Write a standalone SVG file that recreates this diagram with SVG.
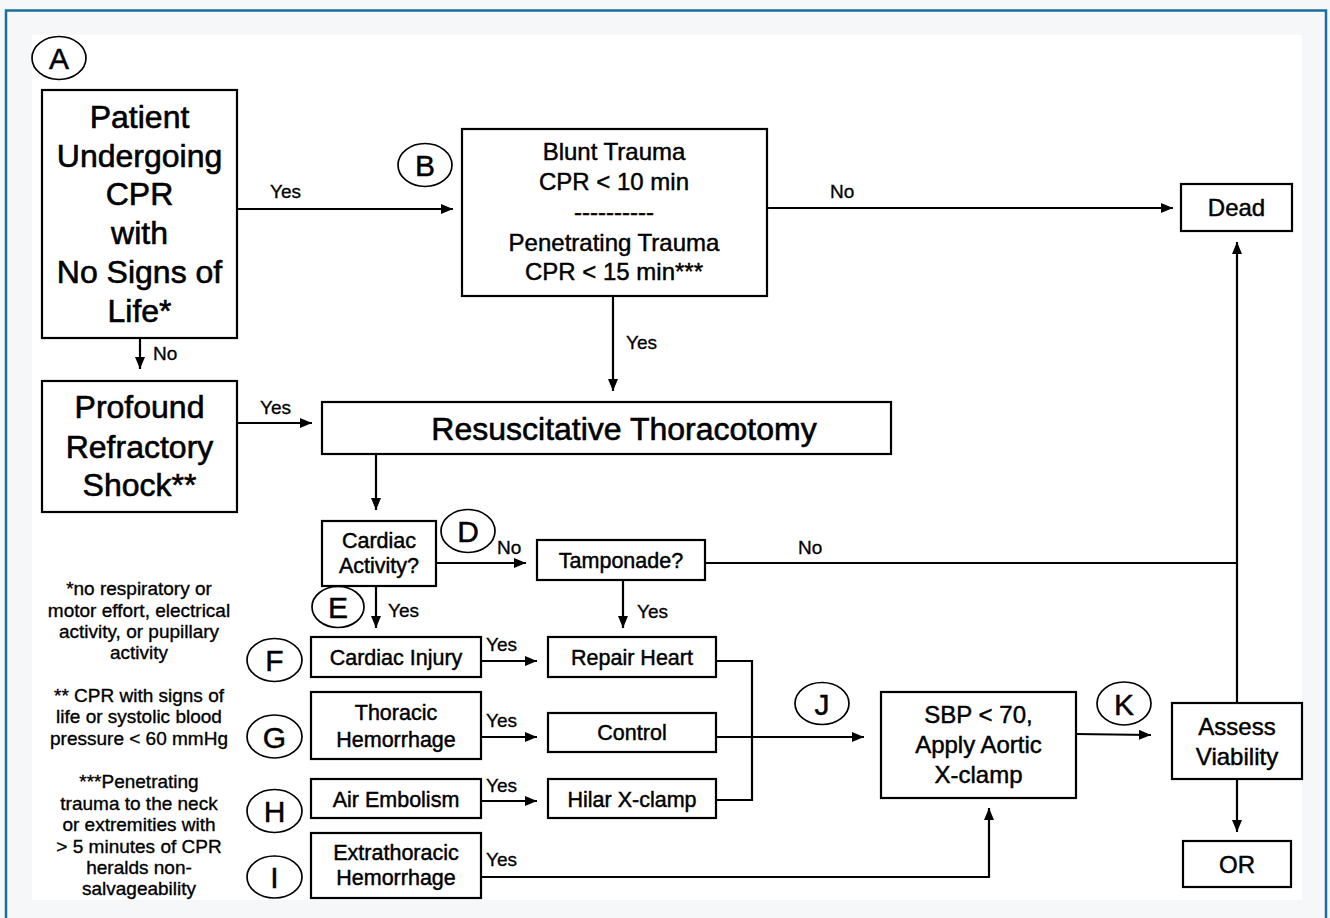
<svg xmlns="http://www.w3.org/2000/svg" width="1330" height="918" viewBox="0 0 1330 918">
<style>
text{font-family:"Liberation Sans",Arial,sans-serif;fill:#000;text-anchor:middle;stroke:#000;stroke-width:0.45}
.box{fill:#fff;stroke:#000;stroke-width:2.2}
.lbl{fill:none;stroke:#000;stroke-width:1.7}
.lt{font-size:30px}
.big{font-size:32px;stroke-width:0.6}
.mid{font-size:24px}
.sm{font-size:21.5px}
.yn{font-size:19px;text-anchor:start;stroke-width:0.3}
.fn{font-size:19px;stroke-width:0.35}
.ln{fill:none;stroke:#000;stroke-width:2.2}
</style>
<defs>
<marker id="ah" viewBox="0 0 12 10" refX="12" refY="5" markerWidth="12" markerHeight="10" markerUnits="userSpaceOnUse" orient="auto">
<path d="M0,0 L12,5 L0,10 Z" fill="#000"/>
</marker>
</defs>
<rect x="0" y="0" width="1330" height="918" fill="#f6f7f8"/>
<path d="M6,918 V10.5 H1326 V918" fill="none" stroke="#1b6f9c" stroke-width="2.5"/>
<rect x="32" y="35" width="1270" height="865" fill="#fff"/>

<g id="connectors">
<line class="ln" x1="237" y1="209" x2="453" y2="209" marker-end="url(#ah)"/>
<text class="yn" x="270" y="198">Yes</text>
<line class="ln" x1="767" y1="208" x2="1173" y2="208" marker-end="url(#ah)"/>
<text class="yn" x="830" y="198">No</text>
<line class="ln" x1="613" y1="296" x2="613" y2="391" marker-end="url(#ah)"/>
<text class="yn" x="626" y="349">Yes</text>
<line class="ln" x1="140" y1="338" x2="140" y2="369" marker-end="url(#ah)"/>
<text class="yn" x="153" y="360">No</text>
<line class="ln" x1="237" y1="423" x2="312" y2="423" marker-end="url(#ah)"/>
<text class="yn" x="260" y="414">Yes</text>
<line class="ln" x1="376" y1="454" x2="376" y2="510" marker-end="url(#ah)"/>
<line class="ln" x1="436" y1="563" x2="526" y2="563" marker-end="url(#ah)"/>
<text class="yn" x="497" y="554">No</text>
<polyline class="ln" points="705,563 1237,563"/>
<text class="yn" x="798" y="554">No</text>
<line class="ln" x1="1237" y1="703" x2="1237" y2="242" marker-end="url(#ah)"/>
<line class="ln" x1="623" y1="580" x2="623" y2="628" marker-end="url(#ah)"/>
<text class="yn" x="637" y="618">Yes</text>
<line class="ln" x1="376" y1="586" x2="376" y2="628" marker-end="url(#ah)"/>
<text class="yn" x="388" y="617">Yes</text>
<line class="ln" x1="481" y1="661" x2="537" y2="661" marker-end="url(#ah)"/>
<text class="yn" x="486" y="651">Yes</text>
<line class="ln" x1="481" y1="737" x2="537" y2="737" marker-end="url(#ah)"/>
<text class="yn" x="486" y="727">Yes</text>
<line class="ln" x1="481" y1="801" x2="537" y2="801" marker-end="url(#ah)"/>
<text class="yn" x="486" y="792">Yes</text>
<polyline class="ln" points="481,877 989,877 989,808" marker-end="url(#ah)"/>
<text class="yn" x="486" y="866">Yes</text>
<polyline class="ln" points="716,661 752,661 752,800 716,800"/>
<line class="ln" x1="716" y1="737" x2="864" y2="737" marker-end="url(#ah)"/>
<line class="ln" x1="1076" y1="734" x2="1151" y2="735" marker-end="url(#ah)"/>
<line class="ln" x1="1237" y1="779" x2="1237" y2="832" marker-end="url(#ah)"/>
</g>

<g id="circle-A"><ellipse class="lbl" cx="59" cy="58" rx="27" ry="21.5"/><text class="lt" x="59" y="69">A</text></g>
<g id="circle-B"><ellipse class="lbl" cx="425" cy="165" rx="27" ry="21.5"/><text class="lt" x="425" y="176">B</text></g>
<g id="circle-C"><ellipse class="lbl" cx="360" cy="424" rx="27" ry="21"/><text class="lt" x="360" y="435">C</text></g>
<g id="circle-D"><ellipse class="lbl" cx="468" cy="531" rx="27" ry="21.5"/><text class="lt" x="468" y="542">D</text></g>
<g id="circle-E"><ellipse class="lbl" cx="338" cy="607" rx="26" ry="20.5"/><text class="lt" x="338" y="618">E</text></g>
<g id="circle-F"><ellipse class="lbl" cx="274.5" cy="660" rx="27.5" ry="21.5"/><text class="lt" x="274.5" y="671">F</text></g>
<g id="circle-G"><ellipse class="lbl" cx="274.5" cy="736.5" rx="27.5" ry="21.5"/><text class="lt" x="274.5" y="747.5">G</text></g>
<g id="circle-H"><ellipse class="lbl" cx="274.5" cy="811" rx="27.5" ry="21.5"/><text class="lt" x="274.5" y="822">H</text></g>
<g id="circle-I"><ellipse class="lbl" cx="274.5" cy="877" rx="27.5" ry="21"/><text class="lt" x="274.5" y="888">I</text></g>
<g id="circle-J"><ellipse class="lbl" cx="822" cy="703.5" rx="27" ry="21"/><text class="lt" x="822" y="714.5">J</text></g>
<g id="circle-K"><ellipse class="lbl" cx="1124" cy="703.5" rx="27" ry="21.5"/><text class="lt" x="1124" y="714.5">K</text></g>

<g id="node-patient">
<rect class="box" x="42" y="90" width="195" height="248"/>
<text class="big" x="139.5" y="128">Patient</text>
<text class="big" x="139.5" y="167">Undergoing</text>
<text class="big" x="139.5" y="205">CPR</text>
<text class="big" x="139.5" y="244">with</text>
<text class="big" x="139.5" y="283">No Signs of</text>
<text class="big" x="139.5" y="322">Life*</text>
</g>
<g id="node-criteria">
<rect class="box" x="462" y="129" width="305" height="167"/>
<text class="mid" x="614" y="160">Blunt Trauma</text>
<text class="mid" x="614" y="190">CPR &lt; 10 min</text>
<text class="mid" x="614" y="220">----------</text>
<text class="mid" x="614" y="251">Penetrating Trauma</text>
<text class="mid" x="614" y="280">CPR &lt; 15 min***</text>
</g>
<g id="node-dead">
<rect class="box" x="1181" y="184" width="111" height="47"/>
<text class="mid" x="1236.5" y="216">Dead</text>
</g>
<g id="node-shock">
<rect class="box" x="42" y="381" width="195" height="131"/>
<text class="big" x="139.5" y="418">Profound</text>
<text class="big" x="139.5" y="458">Refractory</text>
<text class="big" x="139.5" y="496">Shock**</text>
</g>
<g id="node-thoracotomy">
<rect class="box" x="322" y="402" width="569" height="52"/>
<text class="big" x="624" y="440">Resuscitative Thoracotomy</text>
</g>
<g id="node-cardiac-activity">
<rect class="box" x="322" y="521" width="114" height="65"/>
<text class="sm" x="379" y="548">Cardiac</text>
<text class="sm" x="379" y="573">Activity?</text>
</g>
<g id="node-tamponade">
<rect class="box" x="537" y="540" width="168" height="40"/>
<text class="sm" x="621" y="568">Tamponade?</text>
</g>
<g id="node-cardiac-injury">
<rect class="box" x="311" y="637" width="170" height="40"/>
<text class="sm" x="396" y="665">Cardiac Injury</text>
</g>
<g id="node-repair-heart">
<rect class="box" x="548" y="637" width="168" height="40"/>
<text class="sm" x="632" y="665">Repair Heart</text>
</g>
<g id="node-thoracic-hemorrhage">
<rect class="box" x="311" y="692" width="170" height="67"/>
<text class="sm" x="396" y="720">Thoracic</text>
<text class="sm" x="396" y="747">Hemorrhage</text>
</g>
<g id="node-control">
<rect class="box" x="548" y="713" width="168" height="39"/>
<text class="sm" x="632" y="740">Control</text>
</g>
<g id="node-air-embolism">
<rect class="box" x="311" y="779" width="170" height="39"/>
<text class="sm" x="396" y="807">Air Embolism</text>
</g>
<g id="node-hilar">
<rect class="box" x="548" y="779" width="168" height="39"/>
<text class="sm" x="632" y="807">Hilar X-clamp</text>
</g>
<g id="node-extrathoracic">
<rect class="box" x="311" y="833" width="170" height="65"/>
<text class="sm" x="396" y="860">Extrathoracic</text>
<text class="sm" x="396" y="885">Hemorrhage</text>
</g>
<g id="node-sbp">
<rect class="box" x="881" y="692" width="195" height="106"/>
<text class="mid" x="978.5" y="723">SBP &lt; 70,</text>
<text class="mid" x="978.5" y="753">Apply Aortic</text>
<text class="mid" x="978.5" y="783">X-clamp</text>
</g>
<g id="node-assess">
<rect class="box" x="1172" y="703" width="130" height="76"/>
<text class="mid" x="1237" y="735">Assess</text>
<text class="mid" x="1237" y="765">Viability</text>
</g>
<g id="node-or">
<rect class="box" x="1183" y="841" width="108" height="46"/>
<text class="mid" x="1237" y="873">OR</text>
</g>

<g id="footnotes">
<text class="fn" x="139" y="595">*no respiratory or</text>
<text class="fn" x="139" y="617">motor effort, electrical</text>
<text class="fn" x="139" y="638">activity, or pupillary</text>
<text class="fn" x="139" y="659">activity</text>
<text class="fn" x="139" y="702">** CPR with signs of</text>
<text class="fn" x="139" y="723">life or systolic blood</text>
<text class="fn" x="139" y="745">pressure &lt; 60 mmHg</text>
<text class="fn" x="139" y="788">***Penetrating</text>
<text class="fn" x="139" y="810">trauma to the neck</text>
<text class="fn" x="139" y="831">or extremities with</text>
<text class="fn" x="139" y="853">&gt; 5 minutes of CPR</text>
<text class="fn" x="139" y="874">heralds non-</text>
<text class="fn" x="139" y="895">salvageability</text>
</g>
</svg>
